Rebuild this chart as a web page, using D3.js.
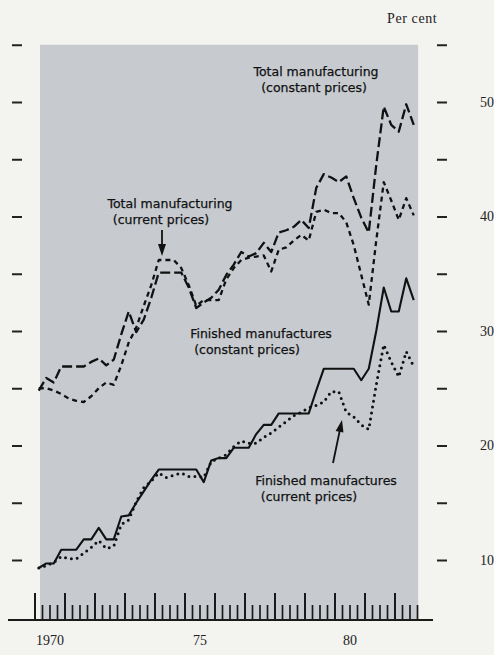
<!DOCTYPE html>
<html>
<head>
<meta charset="utf-8">
<script src="https://cdn.jsdelivr.net/npm/d3@7"></script>
<style>
  html, body { margin: 0; padding: 0; background: #f3f3f0; }
  svg { display: block; }
  .serif { font-family: "Liberation Serif", "DejaVu Serif", serif; fill: #222; }
  .note { font-family: "DejaVu Sans", sans-serif; fill: #111; }
</style>
</head>
<body>
<svg id="chart" width="494" height="655"></svg>
<script>
// quarterly shares, per cent, 1970 Q1 .. 1982 Q3
var startYear = 1970;
var totalConstant = [24.8, 25.9, 25.5, 26.9, 26.9, 26.9, 26.9, 27.3, 27.6, 27.0, 27.5, 29.7, 31.7,
  29.9, 31.0, 32.9, 35.1, 35.1, 35.1, 35.1, 33.8, 32.0, 32.5, 32.9, 33.6, 34.9, 35.8, 36.9, 36.5,
  36.8, 37.7, 36.9, 38.6, 38.8, 39.1, 39.7, 39.0, 42.5, 43.7, 43.4, 43.0, 43.5, 41.6, 39.9, 38.6,
  44.5, 49.6, 48.0, 47.4, 49.8, 48.0];
var totalCurrent = [25.0, 25.0, 24.8, 24.5, 24.1, 23.9, 23.8, 24.3, 25.0, 25.5, 25.3, 27.0, 29.0,
  30.3, 32.2, 34.0, 36.2, 36.2, 36.2, 35.5, 34.0, 32.2, 32.7, 32.7, 32.7, 34.5, 35.5, 36.2, 36.4,
  36.5, 36.6, 35.2, 37.1, 37.3, 37.9, 38.4, 37.9, 40.4, 40.6, 40.3, 40.3, 39.5, 37.5, 34.9, 32.3,
  37.9, 43.0, 41.4, 39.7, 41.6, 40.1];
var finishedConstant = [9.3, 9.7, 9.7, 10.9, 10.9, 10.9, 11.8, 11.8, 12.8, 11.8, 11.8, 13.8, 13.9,
  15.0, 16.0, 17.0, 17.9, 17.9, 17.9, 17.9, 17.9, 17.9, 16.8, 18.7, 18.9, 18.9, 19.8, 19.8, 19.8,
  21.0, 21.8, 21.8, 22.8, 22.8, 22.8, 22.8, 22.8, 24.8, 26.7, 26.7, 26.7, 26.7, 26.7, 25.7, 26.7,
  30.0, 33.8, 31.7, 31.7, 34.6, 32.7];
var finishedCurrent = [9.3, 9.5, 9.8, 10.3, 10.1, 10.1, 10.6, 11.1, 11.7, 11.0, 11.2, 13.1, 13.5,
  15.1, 16.3, 16.9, 17.6, 17.2, 17.4, 17.6, 17.3, 17.3, 17.2, 18.6, 18.9, 19.2, 19.9, 20.4, 20.2,
  20.2, 20.7, 21.1, 21.6, 22.1, 22.6, 22.9, 23.3, 23.5, 23.8, 24.7, 24.7, 22.9, 22.5, 21.8, 21.4,
  25.3, 28.8, 27.3, 26.0, 28.2, 26.9];

var yTicks = [10, 15, 20, 25, 30, 35, 40, 45, 50, 55];
var yLabels = [10, 20, 30, 40, 50];
var yearLabels = [[1970, "1970"], [1975, "75"], [1980, "80"]];

var svg = d3.select("#chart");

var x = d3.scaleLinear().domain([1970, 1983]).range([35, 425]);
var y = d3.scaleLinear().domain([10, 50]).range([560, 102]);
var baseY = 620;

// shaded panel
svg.append("rect")
  .attr("x", 40).attr("y", y(55))
  .attr("width", x(1982.77) - 40).attr("height", baseY - y(55))
  .attr("fill", "#c7cbd0");

// left and right tick dashes
svg.append("g")
  .attr("transform", "translate(22,0)")
  .call(d3.axisLeft(y).tickValues(yTicks).tickSize(10).tickFormat(""))
  .call(g => g.select(".domain").remove())
  .call(g => g.selectAll("line").attr("stroke", "#222").attr("stroke-width", 2));

var right = svg.append("g")
  .attr("transform", "translate(437,0)")
  .call(d3.axisRight(y).tickValues(yTicks).tickSize(10).tickPadding(33)
    .tickFormat(d => yLabels.includes(d) ? d : ""))
  .call(g => g.select(".domain").remove())
  .call(g => g.selectAll("line").attr("stroke", "#222").attr("stroke-width", 2));
right.selectAll("text").attr("class", "serif").attr("font-size", 14).attr("fill", "#222");

svg.append("text").attr("class", "serif")
  .attr("x", 387).attr("y", 23).attr("font-size", 14).attr("letter-spacing", 0.6)
  .text("Per cent");

// time axis: tall ticks at years, short at quarters
var quarterTicks = d3.range(0, 52).map(i => startYear + i / 4);
svg.append("g")
  .attr("transform", `translate(0,${baseY})`)
  .selectAll("line")
  .data(quarterTicks)
  .join("line")
  .attr("x1", d => x(d)).attr("x2", d => x(d))
  .attr("y1", 0).attr("y2", (d, i) => i % 4 === 0 ? -27 : -15)
  .attr("stroke", "#1a1a1a").attr("stroke-width", (d, i) => i % 4 === 0 ? 2 : 1.7);

svg.append("line")
  .attr("x1", 8).attr("x2", 433).attr("y1", baseY).attr("y2", baseY)
  .attr("stroke", "#1a1a1a").attr("stroke-width", 2);

svg.append("g")
  .selectAll("text")
  .data(yearLabels)
  .join("text")
  .attr("class", "serif")
  .attr("x", d => x(d[0] + 0.5)).attr("y", 645)
  .attr("text-anchor", "middle").attr("font-size", 14)
  .text(d => d[1]);

// series
var line = d3.line()
  .x((d, i) => x(startYear + (i + 0.5) / 4))
  .y(d => y(d));

var series = [
  { values: totalConstant, dash: "10,4", width: 2.3, cap: "butt" },
  { values: totalCurrent, dash: "5,4", width: 2.3, cap: "butt" },
  { values: finishedConstant, dash: null, width: 2.1, cap: "butt" },
  { values: finishedCurrent, dash: "0,6", width: 3, cap: "round" }
];

svg.append("g")
  .selectAll("path")
  .data(series)
  .join("path")
  .attr("d", d => line(d.values))
  .attr("fill", "none")
  .attr("stroke", "#111")
  .attr("stroke-width", d => d.width)
  .attr("stroke-linecap", d => d.cap)
  .attr("stroke-linejoin", "round")
  .attr("stroke-dasharray", d => d.dash);

// annotations
function note(lines, cx, yTop) {
  svg.append("g").selectAll("text")
    .data(lines)
    .join("text")
    .attr("class", "note")
    .attr("x", d => cx + d[1]).attr("y", (d, i) => yTop + i * 16)
    .attr("text-anchor", "middle").attr("font-size", 12.5)
    .attr("stroke", "#111").attr("stroke-width", 0.25)
    .text(d => d[0]);
}
note([["Total manufacturing", 0], ["(constant prices)", -2]], 316, 76);
note([["Total manufacturing", 0], ["(current prices)", -9]], 170, 208);
note([["Finished manufactures", 0], ["(constant prices)", -14]], 261, 338);
note([["Finished manufactures", 0], ["(current prices)", -17]], 326, 485);

function arrow(x1, y1, x2, y2) {
  var a = Math.atan2(y2 - y1, x2 - x1), h = 12, w = 4;
  svg.append("line")
    .attr("x1", x1).attr("y1", y1).attr("x2", x2 - h * Math.cos(a) * 0.6).attr("y2", y2 - h * Math.sin(a) * 0.6)
    .attr("stroke", "#111").attr("stroke-width", 1.8);
  var bx = x2 - h * Math.cos(a), by = y2 - h * Math.sin(a);
  svg.append("path")
    .attr("d", `M${x2},${y2}L${bx + w * Math.sin(a)},${by - w * Math.cos(a)}L${bx - w * Math.sin(a)},${by + w * Math.cos(a)}Z`)
    .attr("fill", "#111");
}
arrow(162, 230, 162, 256);
arrow(333, 463, 342, 420);
</script>
</body>
</html>
